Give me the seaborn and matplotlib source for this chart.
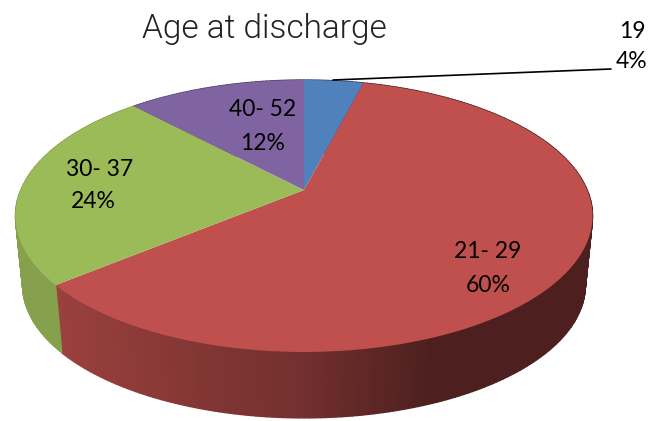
import numpy as np
import matplotlib
matplotlib.use("Agg")
import matplotlib.pyplot as plt
import seaborn as sns

title = "Age at discharge"
groups = ["19", "21- 29", "30- 37", "40- 52"]
shares = [4, 60, 24, 12]
top_colors = ["#4F81BD", "#C0504D", "#9BBB59", "#8064A2"]

sns.set_theme(style="white")
plt.rcParams["font.family"] = ["Lato", "DejaVu Sans"]

fig, ax = plt.subplots(figsize=(6.51, 4.21), dpi=100)
fig.subplots_adjust(0, 0, 1, 1)
ax.set_xlim(0, 651)
ax.set_ylim(421, 0)
ax.axis("off")
palette = sns.color_palette(top_colors)

# Perspective view of a flat disc
APEX_X, APEX_Y, RX, RY, K = 304.0, 190.0, 283.2, 131.0, 0.191
def project(theta, r=1.0, scale=1.0, dy=0.0):
    s = 1.0 / (1.0 + K * r * np.cos(theta))
    x = APEX_X + scale * RX * r * np.sin(theta) * s
    y = APEX_Y + dy - scale * RY * r * np.cos(theta) * s
    return x, y

def side_shade(x):
    # lightness falls from left to right along the rim
    return np.interp(x, [20, 60, 220, 300, 430, 600], [1.0, 0.80, 0.66, 0.60, 0.40, 0.40])

edges = np.deg2rad(np.cumsum([0] + shares) * 3.6)

# Rim
for i, color in enumerate(palette):
    th = np.linspace(edges[i], edges[i + 1], max(int(shares[i] * 4), 4) + 1)
    for a, b in zip(th[:-1], th[1:]):
        xa, ya = project(a); xb, yb = project(b)
        xc, yc = project(b, scale=0.975, dy=70.0); xd, yd = project(a, scale=0.975, dy=70.0)
        shade = 0.86 if i == 2 else side_shade(0.5 * (xa + xb))
        c = tuple(v * shade for v in color)
        ax.fill([xa, xb, xc, xd], [ya, yb, yc, yd], color=c, lw=1.0, zorder=2)

# Top face
for i, color in enumerate(palette):
    th = np.linspace(edges[i], edges[i + 1], 200)
    x, y = project(th)
    ax.fill(np.r_[APEX_X, x], np.r_[APEX_Y, y], color=color, lw=0, zorder=3)

# Title and labels
ax.text(264.5, 29, title, ha="center", va="center", fontsize=24, family=["Roboto", "DejaVu Sans"],
        fontweight=300, color="#222222", zorder=5)
label_pos = [(632, 31, 632, 62), (488, 252, 488, 285), (100, 169, 93, 202), (263, 110, 263, 143)]
for name, pct, (x1, y1, x2, y2) in zip(groups, shares, label_pos):
    ax.text(x1, y1, name, ha="center", va="center", fontsize=16.5, color="black", zorder=5)
    ax.text(x2, y2, f"{pct}%", ha="center", va="center", fontsize=16.5, color="black", zorder=5)
ax.plot([333, 611], [80, 69], color="black", lw=1.2, zorder=6)

fig.savefig("out.png", dpi=100)
